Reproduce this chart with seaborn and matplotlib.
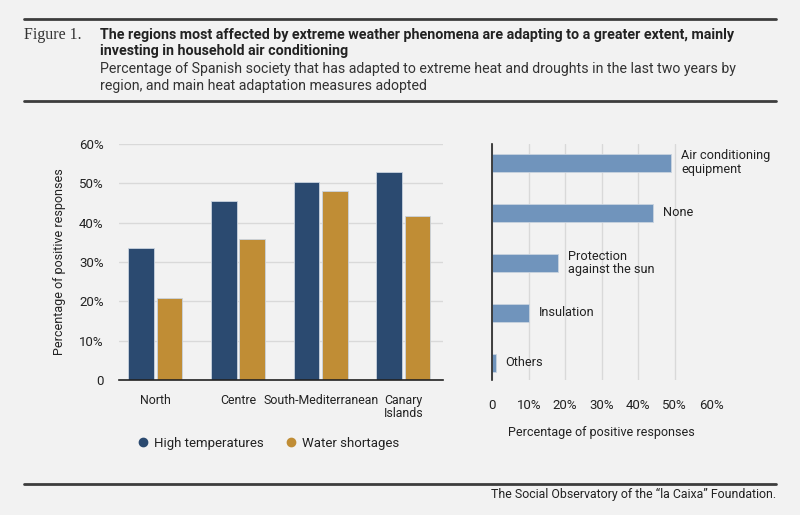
import pandas as pd
import matplotlib
matplotlib.use('Agg')
import matplotlib.pyplot as plt
from matplotlib.lines import Line2D
import seaborn as sns

# data
regions = ['North', 'Centre', 'South-Mediterranean', 'Canary\nIslands']
high_temps = [33.6, 45.5, 50.3, 53.0]
water_short = [20.9, 35.9, 48.1, 41.7]
series_names = ['High temperatures', 'Water shortages']

measures = ['Air conditioning\nequipment', 'None', 'Protection\nagainst the sun', 'Insulation', 'Others']
measure_vals = [49.1, 44.1, 18.1, 10.1, 0.9]

pct_ticks = [0, 10, 20, 30, 40, 50, 60]
pct_labels = ['0', '10%', '20%', '30%', '40%', '50%', '60%']

BG = '#f2f2f2'
BLUE = '#2b4a70'
GOLD = '#c08d35'
LIGHT = '#7094bc'
TXT = '#222222'
GRID = '#d9d9d9'

sns.set_style('white')
plt.rcParams['font.family'] = ['Roboto', 'DejaVu Sans']
plt.rcParams['text.color'] = TXT
plt.rcParams['axes.labelcolor'] = TXT
plt.rcParams['xtick.color'] = TXT
plt.rcParams['ytick.color'] = TXT

df = pd.DataFrame({
    'region': regions * 2,
    'value': high_temps + water_short,
    'series': [series_names[0]] * 4 + [series_names[1]] * 4,
})
df2 = pd.DataFrame({'measure': measures, 'value': measure_vals})

fig = plt.figure(figsize=(8, 5.15), dpi=100, facecolor=BG)

# header
fig.add_artist(Line2D([24/800, 776/800], [1 - 19/515] * 2, color='#3d3d3d', lw=2))
fig.add_artist(Line2D([24/800, 776/800], [1 - 101/515] * 2, color='#3d3d3d', lw=2))
fig.text(24/800, 1 - 35/515, 'Figure 1.', family=['Liberation Serif', 'DejaVu Serif'],
         fontsize=11.5, color='#333333', va='center')
fig.text(100/800, 1 - 35/515, 'The regions most affected by extreme weather phenomena are adapting to a greater extent, mainly',
         fontsize=10.3, fontweight='bold', va='center', color=TXT)
fig.text(100/800, 1 - 51/515, 'investing in household air conditioning',
         fontsize=10.3, fontweight='bold', va='center', color=TXT)
fig.text(100/800, 1 - 69/515, 'Percentage of Spanish society that has adapted to extreme heat and droughts in the last two years by',
         fontsize=10.2, va='center', color='#333333')
fig.text(100/800, 1 - 86/515, 'region, and main heat adaptation measures adopted',
         fontsize=10.2, va='center', color='#333333')

# footer
fig.add_artist(Line2D([24/800, 776/800], [1 - 484/515] * 2, color='#3d3d3d', lw=2))
fig.text(776/800, 1 - 494/515, 'The Social Observatory of the \u201cla Caixa\u201d Foundation.',
         fontsize=8.9, ha='right', va='center', color=TXT)

# left chart: grouped bars by region
ax1 = fig.add_axes([119/800, 1 - 380/515, 324/800, 236/515])
ax1.set_facecolor(BG)
sns.barplot(data=df, x='region', y='value', hue='series', palette=[BLUE, GOLD],
            saturation=1, width=0.69, gap=0.1, edgecolor='#c9d3df', linewidth=0.6, ax=ax1)
ax1.set_ylim(0, 60)
ax1.set_xlim(-0.44, 3.48)
ax1.set_yticks(pct_ticks)
ax1.set_yticklabels(pct_labels, fontsize=9.5)
ax1.yaxis.grid(True, color=GRID, lw=1)
ax1.set_axisbelow(True)
for s in ['left', 'right', 'top']:
    ax1.spines[s].set_visible(False)
ax1.spines['bottom'].set_color('#222222')
ax1.spines['bottom'].set_linewidth(1.2)
ax1.tick_params(axis='y', length=0, pad=11)
ax1.tick_params(axis='x', length=0, pad=10, labelsize=8.9)
for lbl in ax1.get_xticklabels():
    lbl.set_linespacing(1.0)
ax1.set_xlabel('')
ax1.set_ylabel('Percentage of positive responses', fontsize=9, labelpad=9)
ax1.get_legend().remove()

handles = [Line2D([], [], marker='o', ls='', color=c, markersize=6) for c in [BLUE, GOLD]]
fig.legend(handles, series_names, loc='center', bbox_to_anchor=(268/800, 1 - 443/515),
           ncol=2, frameon=False, fontsize=9.5, handletextpad=0.3, columnspacing=1.6,
           handlelength=1.0)

# right chart: adaptation measures
ax2 = fig.add_axes([492.3/800, 1 - 380/515, 218.7/800, 236/515])
ax2.set_facecolor(BG)
sns.barplot(data=df2, x='value', y='measure', color=LIGHT, saturation=1, orient='h',
            width=0.36, edgecolor='#c9d3df', linewidth=0.6, ax=ax2)
ax2.set_xlim(0, 60)
ax2.set_ylim(4.34, -0.38)
ax2.set_xticks(pct_ticks)
ax2.set_xticklabels(pct_labels, fontsize=9.5)
ax2.xaxis.grid(True, color=GRID, lw=1)
ax2.get_xgridlines()[-1].set_visible(False)
ax2.set_axisbelow(True)
for s in ['bottom', 'right', 'top']:
    ax2.spines[s].set_visible(False)
ax2.spines['left'].set_color('#222222')
ax2.spines['left'].set_linewidth(1.2)
ax2.set_yticks([])
ax2.set_ylabel('')
ax2.tick_params(axis='x', length=0, pad=14)
ax2.set_xlabel('Percentage of positive responses', fontsize=9, labelpad=10)
for i, (name, v) in enumerate(zip(measures, measure_vals)):
    ax2.annotate(name, (v, i), xytext=(7, 0), textcoords='offset points',
                 va='center', ha='left', fontsize=9.2, linespacing=1.1)

fig.savefig('out.png', dpi=100, facecolor=BG)
